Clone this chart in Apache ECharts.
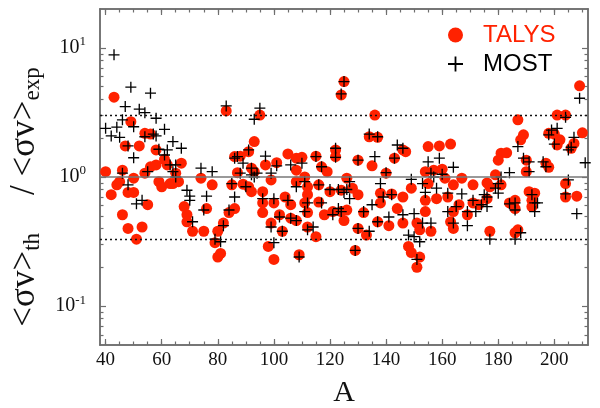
<!DOCTYPE html>
<html>
<head>
<meta charset="utf-8">
<script src="https://cdn.jsdelivr.net/npm/echarts@6/dist/echarts.min.js"></script>
<style>
html, body { margin: 0; padding: 0; background: #fff; }
#chart { width: 600px; height: 408px; }
</style>
</head>
<body>
<div id="chart"></div>
<script>
// <σv>_th / <σv>_exp against mass number A
const talys = [
  [43,4.15],[49,2.68],[40,1.10],[46,1.13],[42,0.73],[44,0.87],[45,0.92],[48,0.76],[50,0.76],[50,0.98],
  [47,1.74],[52,1.74],[46,0.51],[48,0.40],[53,0.41],[51,0.33],[55,0.61],[54,1.07],[54,2.18],[56,2.15],
  [56,1.20],[58,1.24],[58,1.62],[59,0.92],[60,0.84],[61,1.37],[62,1.24],[63,0.89],[64,0.89],[65,1.07],
  [66,0.92],[67,1.28],[68,0.59],[69,0.51],[69,0.45],[71,0.38],
  [83,3.25],[95,3.02],[93,1.88],[91,1.57],[86,1.44],[88,1.45],[74,0.98],[78,0.87],[87,1.08],[85,0.87],
  [89,0.88],[92,1.17],[93,1.10],[92,0.77],[91,0.84],[97,1.24],[99,0.95],[101,1.29],[105,1.51],[108,1.40],
  [108,1.13],[108,0.92],[96,0.77],[96,0.63],[96,0.53],[100,0.63],[104,0.70],[102,0.51],[106,0.61],[106,0.48],
  [108,0.46],[76,0.57],[86,0.57],[84,0.53],[82,0.44],[75,0.38],[80,0.38],[79,0.31],[81,0.256],[80,0.24],
  [99,0.44],[103,0.38],[98,0.29],[100,0.23],[109,0.25],
  [125,5.48],[124,4.32],[136,3.02],[134,2.05],[137,2.03],[122,1.62],[122,1.44],[115,1.45],[110,1.42],[117,1.20],
  [119,1.10],[130,1.35],[135,1.22],[140,1.07],[143,1.40],[111,1.0],[126,0.98],[112,0.84],[116,0.87],[120,0.77],
  [124,0.79],[128,0.82],[112,0.73],[111,0.63],[116,0.64],[126,0.555],[124,0.54],[121,0.54],[118,0.51],[112,0.53],
  [125,0.46],[132,0.53],[137,0.45],[141,0.42],[138,0.75],[142,0.74],[144,0.57],[138,0.63],[112,0.41],[115,0.345],
  [130,0.40],[133,0.355],[129,0.27],[130,0.73],
  [146,1.62],[147,1.57],[155,1.72],[159,1.74],[163,1.80],[181,1.53],[180,1.35],[154,1.10],[157,1.13],[160,1.15],
  [149,0.82],[155,0.89],[158,0.68],[154,0.66],[161,0.98],[164,0.87],[167,0.98],[162,0.70],[171,0.87],[176,0.90],
  [177,0.84],[179,1.04],[154,0.54],[164,0.54],[166,0.61],[169,0.51],[171,0.63],[173,0.61],[176,0.68],[163,0.45],
  [164,0.40],[146,0.44],[151,0.44],[152,0.39],[156,0.38],[148,0.29],[149,0.26],[152,0.24],[151,0.20],[177,0.38],
  [146,0.70],
  [209,5.08],[187,2.77],[201,3.02],[204,3.02],[189,2.12],[188,1.94],[210,2.20],[198,2.18],[200,2.15],[202,1.94],
  [201,1.77],[207,1.82],[206,1.67],[183,1.54],[190,1.35],[190,1.10],[197,1.28],[198,1.19],[181,0.87],[204,0.89],
  [204,0.70],[208,0.71],[191,0.77],[193,0.75],[192,0.66],[192,0.59],[184,0.63],[186,0.66],[186,0.57],[186,0.37],
  [187,0.39]
];

const most = [
  [43,8.83],[49,4.96],[56,4.46],[47,3.51],[52,3.35],[54,3.15],[58,2.85],[46,2.77],[40,2.38],[44,2.43],
  [50,2.45],[61,2.34],[42,2.08],[45,2.03],[57,2.15],[54,2.05],[58,2.08],[48,1.74],[64,1.88],[59,1.64],
  [62,1.62],[67,1.67],[50,1.41],[61,1.48],[63,1.24],[65,1.24],[46,1.07],[55,1.10],[64,1.10],[65,1.0],
  [48,0.87],[69,0.79],[70,0.71],[70,0.66],[51,0.62],[53,0.66],[71,0.45],
  [83,3.55],[95,3.41],[93,2.80],[91,1.62],[87,1.44],[97,1.45],[86,1.40],[89,1.28],[78,1.10],[74,1.17],
  [88,1.07],[92,1.17],[92,1.04],[94,1.07],[99,1.07],[101,1.22],[106,1.24],[85,0.89],[90,0.84],[108,0.84],
  [76,0.71],[86,0.70],[96,0.68],[100,0.68],[105,0.66],[75,0.555],[84,0.555],[102,0.49],[106,0.48],[108,0.46],
  [82,0.42],[99,0.41],[103,0.38],[79,0.33],[81,0.315],[100,0.31],[93,1.0],[109,0.24],
  [125,5.48],[124,4.40],[134,2.15],[137,2.05],[122,1.67],[122,1.42],[115,1.44],[130,1.35],[136,1.44],[143,1.40],
  [117,1.20],[140,1.08],[110,1.28],[144,1.77],[111,0.92],[127,0.92],[120,0.80],[123,0.80],[126,0.80],[116,0.87],
  [138,0.89],[127,0.68],[142,0.73],[139,0.70],[112,0.63],[117,0.63],[111,0.54],[123,0.57],[124,0.54],[121,0.51],
  [135,0.61],[132,0.54],[141,0.49],[137,0.45],[114,0.41],[112,0.39],[130,0.40],[134,0.38],[129,0.27],[125,0.76],
  [146,1.67],[155,1.31],[159,1.40],[164,1.19],[149,0.96],[156,1.07],[157,1.0],[160,1.05],[153,0.89],[154,0.76],
  [158,0.82],[162,0.75],[167,0.74],[165,0.59],[171,0.66],[175,0.73],[176,0.70],[180,0.89],[179,0.82],[146,0.51],
  [150,0.52],[153,0.44],[156,0.44],[162,0.54],[164,0.44],[169,0.42],[169,0.54],[172,0.54],[148,0.355],[150,0.345],
  [152,0.315],[151,0.23],[177,0.33],[176,0.59],[174,0.61],
  [209,4.07],[204,2.90],[199,2.31],[201,2.38],[198,2.12],[207,2.03],[200,1.80],[206,1.70],[205,1.62],[187,1.72],
  [211,1.29],[189,1.40],[191,1.31],[191,1.10],[196,1.31],[197,1.20],[184,1.08],[181,1.0],[180,0.75],[205,0.95],
  [204,0.74],[208,0.52],[192,0.73],[193,0.63],[194,0.63],[193,0.54],[186,0.63],[184,0.62],[186,0.555],[186,0.33],
  [188,0.37]
];

const xMajor = [40, 60, 80, 100, 120, 140, 160, 180, 200];
const xMinor = [40, 45, 50, 55, 60, 65, 70, 75, 80, 85, 90, 95, 100, 105, 110, 115, 120, 125, 130, 135,
  140, 145, 150, 155, 160, 165, 170, 175, 180, 185, 190, 195, 200, 205, 210];
const yMajor = [0.1, 1, 10];
const yMinor = [0.06, 0.07, 0.08, 0.09, 0.2, 0.3, 0.4, 0.5, 0.6, 0.7, 0.8, 0.9, 2, 3, 4, 5, 6, 7, 8, 9];
const refLines = [1 / 3, 1, 3];

const RED = '#ff2200';
const FRAME = '#6e6e6e';
const SERIF = 'Liberation Serif';
const PLUS = 'path://M4.4,0H5.6V4.4H10V5.6H5.6V10H4.4V5.6H0V4.4H4.4Z';

const chart = echarts.init(document.getElementById('chart'), null, { renderer: 'canvas' });

const frameLine = { show: true, lineStyle: { color: FRAME, width: 1.5 } };

function xAxisDef(pos, ticks, len, labels) {
  return {
    type: 'value', position: pos, min: 38, max: 212,
    axisLine: frameLine,
    splitLine: { show: false },
    axisTick: { show: true, inside: true, length: len, customValues: ticks, lineStyle: { color: FRAME, width: 1.2 } },
    axisLabel: labels ? {
      show: true, customValues: ticks, margin: 6,
      fontFamily: SERIF, fontSize: 19, color: '#111'
    } : { show: false }
  };
}

function yAxisDef(pos, ticks, len, labels) {
  return {
    type: 'log', logBase: 10, position: pos, min: 0.05, max: 20,
    axisLine: frameLine,
    splitLine: { show: false },
    minorTick: { show: false },
    axisTick: { show: true, inside: true, length: len, customValues: ticks, lineStyle: { color: FRAME, width: 1.2 } },
    axisLabel: labels ? {
      show: true, customValues: ticks, margin: 14,
      formatter: v => '{b|10}{e|' + Math.round(Math.log10(v)) + '}',
      rich: {
        b: { fontFamily: SERIF, fontSize: 20, color: '#111' },
        e: { fontFamily: SERIF, fontSize: 13, color: '#111', padding: [0, 0, 12, 0] }
      }
    } : { show: false }
  };
}

const option = {
  animation: false,
  backgroundColor: '#fff',
  grid: { left: 100, right: 12, top: 9, bottom: 63, outerBoundsMode: 'none' },
  legend: {
    orient: 'vertical', left: 443, top: 18,
    itemWidth: 15, itemHeight: 15, itemGap: 5,
    textStyle: { fontFamily: 'Liberation Sans', fontSize: 24, padding: [0, 0, 0, 15] },
    data: [
      { name: 'TALYS', icon: 'circle', textStyle: { color: RED } },
      { name: 'MOST', icon: PLUS, textStyle: { color: '#000' } }
    ]
  },
  xAxis: [
    Object.assign(xAxisDef('bottom', xMajor, 6, true), {
      name: 'A', nameLocation: 'middle', nameGap: 33,
      nameTextStyle: { fontFamily: SERIF, fontSize: 30, color: '#111' }
    }),
    xAxisDef('bottom', xMinor, 3.5, false),
    xAxisDef('top', xMajor, 6, false),
    xAxisDef('top', xMinor, 3.5, false)
  ],
  yAxis: [
    Object.assign(yAxisDef('left', yMajor, 6, true), {
      name: '{m|<σv>}{s|th}{g|/}{m| <σv>}{s|exp}',
      nameLocation: 'middle', nameRotate: 90, nameGap: 48,
      nameTextStyle: {
        padding: [0, 40, 0, 0],
        rich: {
          m: { fontFamily: SERIF, fontSize: 35, color: '#111' },
          g: { fontFamily: SERIF, fontSize: 35, color: '#111', padding: [0, 0, 0, 38] },
          s: { fontFamily: SERIF, fontSize: 23, color: '#111', padding: [15, 0, 0, 0] }
        }
      }
    }),
    yAxisDef('left', yMinor, 3.5, false),
    yAxisDef('right', yMajor, 6, false),
    yAxisDef('right', yMinor, 3.5, false)
  ],
  series: [
    {
      name: 'ref', type: 'scatter', data: [], silent: true, z: 1,
      markLine: {
        silent: true, symbol: ['none', 'none'], label: { show: false },
        data: refLines.map(v => ({
          yAxis: v,
          lineStyle: v === 1
            ? { color: '#777', type: 'solid', width: 1.5 }
            : { color: '#111', type: [2, 3], width: 1.3 }
        }))
      }
    },
    {
      name: 'TALYS', type: 'scatter', data: talys, z: 2,
      symbol: 'circle', symbolSize: 11,
      itemStyle: { color: RED, opacity: 1 }
    },
    {
      name: 'MOST', type: 'scatter', data: most, z: 3,
      symbol: PLUS, symbolSize: 11,
      itemStyle: { color: '#000', opacity: 1 }
    }
  ]
};

chart.setOption(option);
</script>
</body>
</html>
